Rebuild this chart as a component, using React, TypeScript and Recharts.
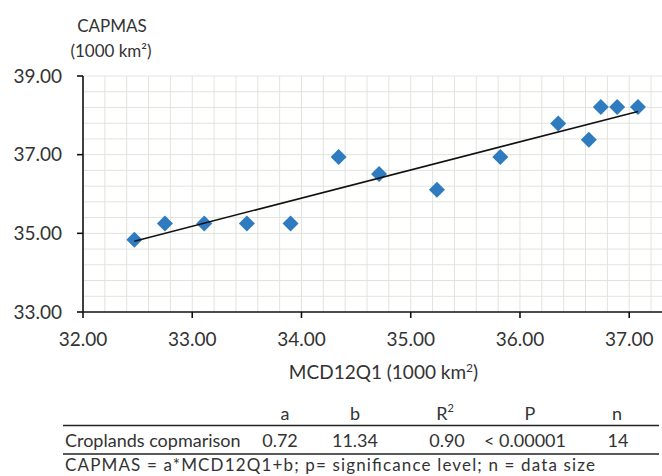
import React from 'react';
import { ScatterChart, Scatter, XAxis, YAxis, ReferenceLine } from 'recharts';

// MCD12Q1 (x) vs CAPMAS (y), 1000 km²
const mcd12q1 = [32.47, 32.75, 33.11, 33.5, 33.9, 34.34, 34.71, 35.24, 35.82, 36.35, 36.63, 36.74, 36.89, 37.08];
const capmas = [34.84, 35.25, 35.25, 35.25, 35.25, 36.94, 36.51, 36.11, 36.94, 37.79, 37.38, 38.21, 38.21, 38.21];

// fitted trend line endpoints
const trendX = [32.47, 37.08];
const trendY = [34.8, 38.1];

const xTicks = [32, 33, 34, 35, 36, 37];
const yTicks = [33, 35, 37, 39];
const xMinorTicks = [32.2, 32.4, 32.6, 32.8, 33, 33.2, 33.4, 33.6, 33.8, 34, 34.2, 34.4, 34.6, 34.8, 35, 35.2, 35.4, 35.6, 35.8, 36, 36.2, 36.4, 36.6, 36.8, 37, 37.2];
const yMinorTicks = [33.4, 33.8, 34.2, 34.6, 35, 35.4, 35.8, 36.2, 36.6, 37, 37.4, 37.8, 38.2, 38.6, 39];

const tableHeaders = ['a', 'b', 'R', 'P', 'n'];
const tableRowLabel = 'Croplands copmarison';
const tableValues = ['0.72', '11.34', '0.90', '< 0.00001', '14'];
const footnote = 'CAPMAS = a*MCD12Q1+b; p= significance level; n = data size';

const points = mcd12q1.map((x, i) => ({ x, y: capmas[i] }));
const trend = trendX.map((x, i) => ({ x, y: trendY[i] }));

const FONT = 'Lato, "Open Sans", sans-serif';
const TEXT = '#333';
const BLUE = '#2e7bbf';
const GRID = '#e3e3dc';

const Diamond = (props: any) => {
  const { cx, cy } = props;
  if (cx == null || cy == null) return <g />;
  const r = 8;
  return (
    <polygon
      points={`${cx},${cy - r} ${cx + r},${cy} ${cx},${cy + r} ${cx - r},${cy}`}
      fill={BLUE}
    />
  );
};

const headerX = [285, 355, 445, 530, 617];
const valueX = [280, 355, 447, 525, 618];

export default function App() {
  return (
    <div style={{ position: 'absolute', left: 0, top: 0, width: 662, height: 476, background: '#fff' }}>
      <ScatterChart width={662} height={476} margin={{ top: 76, right: 0, bottom: 134, left: 0 }}>
        {xMinorTicks.map((v) => (
          <ReferenceLine key={`gx${v}`} x={v} stroke={GRID} strokeWidth={1} zIndex={-100} />
        ))}
        {yMinorTicks.map((v) => (
          <ReferenceLine key={`gy${v}`} y={v} stroke={GRID} strokeWidth={1} zIndex={-100} />
        ))}
        <XAxis
          type="number"
          dataKey="x"
          domain={[32, 37.3]}
          ticks={xTicks}
          allowDataOverflow
          height={30}
          tickSize={6}
          tickMargin={15}
          tickFormatter={(v: number) => v.toFixed(2)}
          axisLine={{ stroke: '#111', strokeWidth: 1.6 }}
          tickLine={{ stroke: '#111', strokeWidth: 1.6 }}
          tick={{ fill: TEXT, fontSize: 19, fontFamily: FONT }}
        />
        <YAxis
          type="number"
          dataKey="y"
          domain={[33, 39]}
          ticks={yTicks}
          allowDataOverflow
          width={83}
          tickSize={6}
          tickMargin={15}
          tickFormatter={(v: number) => v.toFixed(2)}
          axisLine={{ stroke: '#111', strokeWidth: 1.6 }}
          tickLine={{ stroke: '#111', strokeWidth: 1.6 }}
          tick={{ fill: TEXT, fontSize: 19, fontFamily: FONT }}
        />
        <Scatter data={points} shape={Diamond} isAnimationActive={false} />
        <Scatter
          data={trend}
          shape={() => <g />}
          line={{ stroke: '#111', strokeWidth: 1.5 }}
          isAnimationActive={false}
        />
      </ScatterChart>
      <svg
        width={662}
        height={476}
        style={{ position: 'absolute', left: 0, top: 0, pointerEvents: 'none' }}
        fontFamily={FONT}
        fill={TEXT}
      >
        <text x={112} y={31.7} fontSize={17} textAnchor="middle">CAPMAS</text>
        <text x={111} y={56.7} fontSize={17} textAnchor="middle">(1000 km²)</text>
        <text x={383.5} y={379} fontSize={19} textAnchor="middle">
          MCD12Q1 (1000 km<tspan fontSize={12} dy={-7}>2</tspan><tspan dy={7}>)</tspan>
        </text>
        {tableHeaders.map((h, i) => (
          <text key={h} x={headerX[i]} y={419.5} fontSize={18} textAnchor="middle">
            {h}
            {h === 'R' ? <tspan fontSize={11} dy={-8}>2</tspan> : null}
          </text>
        ))}
        <line x1={63} x2={659} y1={425.5} y2={425.5} stroke="#222" strokeWidth={1.5} />
        <text x={65} y={446.5} fontSize={18}>{tableRowLabel}</text>
        {tableValues.map((v, i) => (
          <text key={i} x={valueX[i]} y={446.5} fontSize={18} textAnchor="middle">{v}</text>
        ))}
        <line x1={63} x2={659} y1={454} y2={454} stroke="#222" strokeWidth={1.5} />
        <text x={65} y={471} fontSize={17} textLength={530} lengthAdjust="spacing">{footnote}</text>
      </svg>
    </div>
  );
}
